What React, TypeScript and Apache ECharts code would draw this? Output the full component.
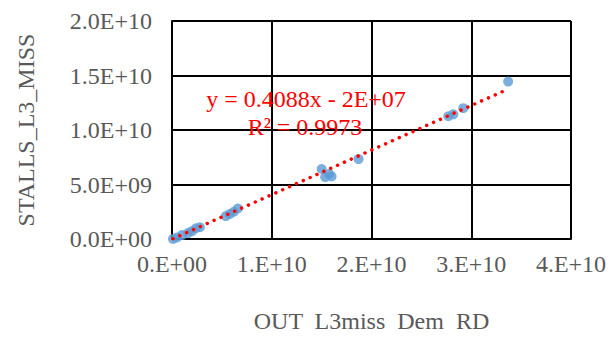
import React, { useEffect, useRef } from "react";
import * as echarts from "echarts";

const xValues = [
  1.0e8, 5.0e8, 1.0e9, 1.6e9, 2.0e9, 2.4e9, 2.8e9,
  5.4e9, 5.8e9, 6.2e9, 6.6e9,
  1.5e10, 1.535e10, 1.575e10, 1.6e10, 1.87e10,
  2.77e10, 2.82e10, 2.92e10, 3.37e10,
];
const yValues = [
  1.0e7, 1.35e8, 3.6e8, 5.4e8, 7.2e8, 9.9e8, 1.08e9,
  2.1e9, 2.3e9, 2.5e9, 2.8e9,
  6.42e9, 5.68e9, 5.97e9, 5.74e9, 7.33e9,
  1.126e10, 1.144e10, 1.2e10, 1.444e10,
];
const trendSlope = 0.4088;
const trendIntercept = -2e7;
const equationLabels = ["y = 0.4088x - 2E+07", "R² = 0.9973"];
const xTitle = "OUT  L3miss  Dem  RD";
const yTitle = "STALLS_L3_MISS";

const FONT = "Liberation Serif";

function sci(v: number, digits: number): string {
  if (v === 0) return (digits > 0 ? (0).toFixed(digits) : "0.") + "E+00";
  const e = Math.floor(Math.log10(Math.abs(v)) + 1e-9);
  const m = v / Math.pow(10, e);
  const ms = digits > 0 ? m.toFixed(digits) : Math.round(m) + ".";
  const es = (e < 0 ? "-" : "+") + String(Math.abs(e)).padStart(2, "0");
  return ms + "E" + es;
}

export default function App() {
  const ref = useRef<HTMLDivElement>(null);
  useEffect(() => {
    if (!ref.current) return;
    const chart = echarts.init(ref.current, undefined, { renderer: "svg" });
    const points = xValues.map((x, i) => [x, yValues[i]]);
    const xmin = Math.min(...xValues);
    const xmax = Math.max(...xValues);
    const trend = [
      [xmin, trendSlope * xmin + trendIntercept],
      [xmax, trendSlope * xmax + trendIntercept],
    ];
    chart.setOption({
      animation: false,
      backgroundColor: "#ffffff",
      textStyle: { fontFamily: FONT },
      grid: { left: 172, right: 45, top: 21, bottom: 95, containLabel: false },
      xAxis: {
        type: "value",
        min: 0,
        max: 4e10,
        interval: 1e10,
        name: xTitle,
        nameLocation: "middle",
        nameGap: 70,
        nameTextStyle: { fontFamily: FONT, fontSize: 24, color: "#595959", verticalAlign: "top" },
        axisLine: { show: true, onZero: false, lineStyle: { color: "#000", width: 2 } },
        axisTick: { show: false },
        axisLabel: {
          formatter: (v: number) => sci(v, 0),
          fontFamily: FONT,
          fontSize: 24,
          color: "#595959",
          margin: 13,
        },
        splitLine: { show: true, lineStyle: { color: "#000", width: 2 } },
      },
      yAxis: {
        type: "value",
        min: 0,
        max: 2e10,
        interval: 5e9,
        name: yTitle,
        nameLocation: "middle",
        nameGap: 134,
        nameRotate: 90,
        nameTextStyle: { fontFamily: FONT, fontSize: 24, color: "#595959" },
        axisLine: { show: true, onZero: false, lineStyle: { color: "#000", width: 2 } },
        axisTick: { show: false },
        axisLabel: {
          formatter: (v: number) => sci(v, 1),
          fontFamily: FONT,
          fontSize: 24,
          color: "#595959",
          margin: 20,
        },
        splitLine: { show: true, lineStyle: { color: "#000", width: 2 } },
      },
      series: [
        {
          type: "scatter",
          data: points,
          symbol: "circle",
          symbolSize: 10,
          itemStyle: { color: "#5B9BD5" },
          z: 2,
        },
        {
          type: "line",
          data: trend,
          showSymbol: false,
          symbol: "none",
          lineStyle: { color: "#FF0000", width: 3.5, type: [0.01, 7.5], cap: "round" },
          z: 3,
        },
      ],
      graphic: [
        {
          type: "text",
          x: 306,
          y: 99,
          style: {
            text: equationLabels[0],
            fill: "#FF0000",
            fontFamily: FONT,
            fontSize: 24,
            align: "center",
            verticalAlign: "middle",
          },
          z: 10,
        },
        {
          type: "text",
          x: 305,
          y: 127,
          style: {
            text: equationLabels[1],
            fill: "#FF0000",
            fontFamily: FONT,
            fontSize: 24,
            align: "center",
            verticalAlign: "middle",
          },
          z: 10,
        },
      ],
    });
    return () => chart.dispose();
  }, []);
  return (
    <div
      ref={ref}
      style={{ position: "fixed", left: 0, top: 0, width: 616, height: 338, background: "#fff" }}
    />
  );
}
